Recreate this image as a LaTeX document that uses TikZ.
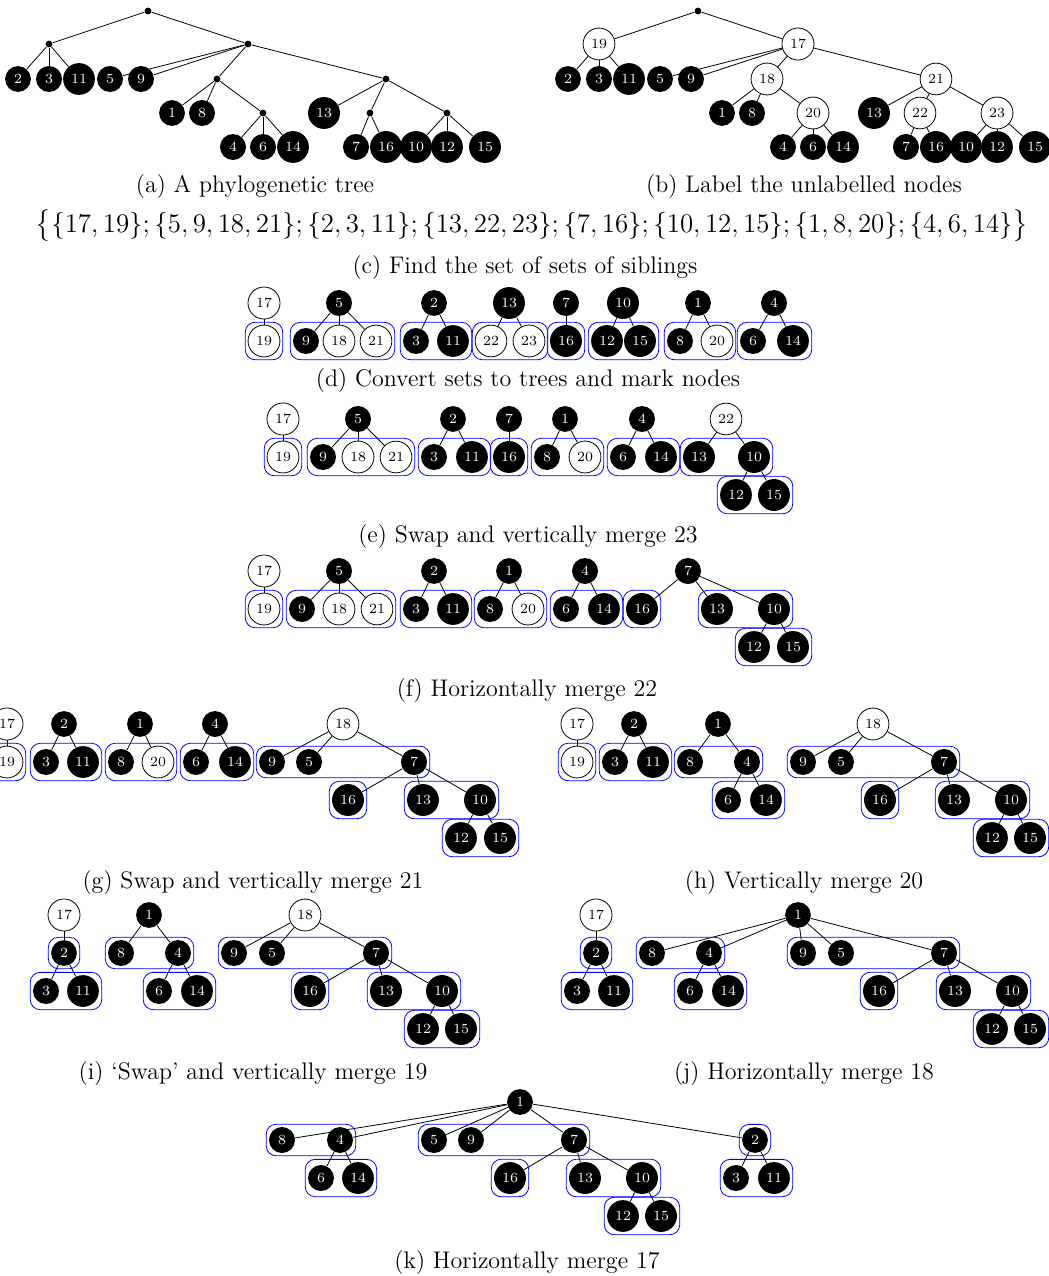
\documentclass[tikz,border=0pt]{standalone}
\usepackage{amsmath}
\usepackage{amssymb}
\usepackage{tikz}
\usetikzlibrary{shapes,fit}

\begin{document}
\begin{tikzpicture}[x=0.5pt,y=-0.5pt,
	leaf/.style={circle,fill=black,text=white,inner sep=2.4pt,font=\fontsize{7}{8}\selectfont},
	lab/.style={circle,draw,fill=white,inner sep=2.4pt,font=\fontsize{7}{8}\selectfont},
	dot/.style={circle,fill=black,inner sep=0pt,minimum size=3.4pt},
	grp/.style={draw=blue,rounded corners=5pt,inner sep=1.2pt},
	subcap/.style={font=\fontsize{12}{14}\selectfont}]
			\useasboundingbox (0,0) rectangle (1049,1276);

			% (a) and (b): the tree, unlabelled and labelled
			\foreach \t/\dx in {a/0,b/550}
				\foreach \n/\x/\y in {2/18/79,3/49/79,11/79/79,5/110/79,9/141/79,1/172/113,8/202/113,13/324/113,
					4/233/147,6/263/147,14/293/147,7/356/147,16/386/147,10/416/147,12/447/147,15/485/147}
					\node[leaf] (\t\n) at (\x+\dx,\y) {\n};
			\foreach \n/\x/\y in {19/49/44,17/248/44,18/217/79,21/386/79,20/263/113,22/370/113,23/447/113} {
				\node[dot] (a\n) at (\x,\y) {};
				\node[lab] (b\n) at (\x+550,\y) {\n};
			}
			\node[dot] (ar) at (148,11) {};
			\node[dot] (br) at (698,11) {};
			\foreach \t in {a,b}
				\foreach \p/\c in {r/19,r/17,19/2,19/3,19/11,17/5,17/9,17/18,17/21,18/1,18/8,18/20,20/4,20/6,20/14,
					21/13,21/22,21/23,22/7,22/16,23/10,23/12,23/15}
					\path[draw] (\t\p) -- (\t\c);
			\node[subcap] (capa) at (255,187) {(a) A phylogenetic tree};
			\node[subcap] (capb) at (804,187) {(b) Label the unlabelled nodes};

			% (c) sets of siblings
			\node[subcap] (sets) at (532,226) {\scalebox{1.12}{$\bigl\{\{17,19\};\{5,9,18,21\};\{2,3,11\};\{13,22,23\};\{7,16\};\{10,12,15\};\{1,8,20\};\{4,6,14\}\bigr\}$}};
			\node[subcap] (capc) at (525,268) {(c) Find the set of sets of siblings};

			% (d)
			\foreach \n/\x/\y in {5/339/303,9/306/341,2/434/303,3/416/341,11/453/341,13/509/303,7/566/303,16/566/341,
				10/623/303,12/607/341,15/640/341,1/698/303,8/680/341,4/774/303,6/753/341,14/793/341}
				\node[leaf] (d\n) at (\x,\y) {\n};
			\foreach \n/\x/\y in {17/264/303,19/264/341,18/339/341,21/376/341,22/491/341,23/529/341,20/717/341}
				\node[lab] (d\n) at (\x,\y) {\n};
			\foreach \p/\c in {17/19,5/9,5/18,5/21,2/3,2/11,13/22,13/23,7/16,10/12,10/15,1/8,1/20,4/6,4/14}
				\path[draw] (d\p) -- (d\c);
			\foreach \u/\v in {19/19,9/21,3/11,22/23,16/16,12/15,8/20,6/14}
				\node[grp,fit=(d\u)(d\v)] {};
			\node[subcap] (capd) at (528,381) {(d) Convert sets to trees and mark nodes};

			% (e)
			\foreach \n/\x/\y in {5/358/419,9/323/457,2/453/419,3/434/457,11/472/457,7/509/419,16/509/457,1/565/419,
				8/547/457,4/642/419,6/623/457,14/661/457,13/699/457,10/754/457,12/736/495,15/774/495}
				\node[leaf] (e\n) at (\x,\y) {\n};
			\foreach \n/\x/\y in {17/283/419,19/283/457,18/358/457,21/396/457,20/585/457,22/726/419}
				\node[lab] (e\n) at (\x,\y) {\n};
			\foreach \p/\c in {17/19,5/9,5/18,5/21,2/3,2/11,7/16,1/8,1/20,4/6,4/14,22/13,22/10,10/12,10/15}
				\path[draw] (e\p) -- (e\c);
			\foreach \u/\v in {19/19,9/21,3/11,16/16,8/20,6/14,13/10,12/15}
				\node[grp,fit=(e\u)(e\v)] {};
			\node[subcap] (cape) at (528,537) {(e) Swap and vertically merge 23};

			% (f)
			\foreach \n/\x/\y in {5/339/571,9/302/609,2/434/571,3/416/609,11/453/609,1/509/571,8/490/609,4/585/571,
				6/566/609,14/604/609,7/688/571,16/642/609,13/717/609,10/774/609,12/754/647,15/793/647}
				\node[leaf] (f\n) at (\x,\y) {\n};
			\foreach \n/\x/\y in {17/264/571,19/264/609,18/339/609,21/377/609,20/528/609}
				\node[lab] (f\n) at (\x,\y) {\n};
			\foreach \p/\c in {17/19,5/9,5/18,5/21,2/3,2/11,1/8,1/20,4/6,4/14,7/16,7/13,7/10,10/12,10/15}
				\path[draw] (f\p) -- (f\c);
			\foreach \u/\v in {19/19,9/21,3/11,8/20,6/14,16/16,13/10,12/15}
				\node[grp,fit=(f\u)(f\v)] {};
			\node[subcap] (capf) at (527,690) {(f) Horizontally merge 22};

			% (g)
			\foreach \n/\x/\y in {2/64/724,3/46/762,11/83/762,1/140/724,8/121/762,4/215/724,6/196/762,14/235/762,
				9/272/762,5/309/762,7/414/762,16/348/800,13/423/800,10/480/800,12/461/838,15/500/838}
				\node[leaf] (g\n) at (\x,\y) {\n};
			\foreach \n/\x/\y in {17/7/724,19/7/762,20/158/762,18/343/724}
				\node[lab] (g\n) at (\x,\y) {\n};
			\foreach \p/\c in {17/19,2/3,2/11,1/8,1/20,4/6,4/14,18/9,18/5,18/7,7/16,7/13,7/10,10/12,10/15}
				\path[draw] (g\p) -- (g\c);
			\foreach \u/\v in {19/19,3/11,8/20,6/14,9/7,16/16,13/10,12/15}
				\node[grp,fit=(g\u)(g\v)] {};
			\node[subcap] (capg) at (253,882) {(g) Swap and vertically merge 21};

			% (h)
			\foreach \n/\x/\y in {2/634/724,3/615/762,11/653/762,1/718/724,8/690/762,4/747/762,6/728/800,14/766/800,
				9/803/762,5/841/762,7/944/762,16/880/800,13/954/800,10/1011/800,12/992/838,15/1030/838}
				\node[leaf] (h\n) at (\x,\y) {\n};
			\foreach \n/\x/\y in {17/577/724,19/577/762,18/873/724}
				\node[lab] (h\n) at (\x,\y) {\n};
			\foreach \p/\c in {17/19,2/3,2/11,1/8,1/4,4/6,4/14,18/9,18/5,18/7,7/16,7/13,7/10,10/12,10/15}
				\path[draw] (h\p) -- (h\c);
			\foreach \u/\v in {19/19,3/11,8/4,6/14,9/7,16/16,13/10,12/15}
				\node[grp,fit=(h\u)(h\v)] {};
			\node[subcap] (caph) at (804,882) {(h) Vertically merge 20};

			% (i)
			\foreach \n/\x/\y in {2/64/953,3/46/991,11/83/991,1/149/915,8/121/953,4/178/953,6/159/991,14/197/991,
				9/234/953,5/272/953,7/376/953,16/310/991,13/386/991,10/442/991,12/423/1029,15/461/1029}
				\node[leaf] (i\n) at (\x,\y) {\n};
			\foreach \n/\x/\y in {17/64/915,18/305/915}
				\node[lab] (i\n) at (\x,\y) {\n};
			\foreach \p/\c in {17/2,2/3,2/11,1/8,1/4,4/6,4/14,18/9,18/5,18/7,7/16,7/13,7/10,10/12,10/15}
				\path[draw] (i\p) -- (i\c);
			\foreach \u/\v in {2/2,3/11,8/4,6/14,9/7,16/16,13/10,12/15}
				\node[grp,fit=(i\u)(i\v)] {};
			\node[subcap] (capi) at (253,1073) {(i) `Swap' and vertically merge 19};

			% (j)
			\foreach \n/\x/\y in {2/596/953,3/577/991,11/614/991,1/798/915,8/652/953,4/709/953,6/690/991,14/728/991,
				9/803/953,5/841/953,7/944/953,16/879/991,13/955/991,10/1012/991,12/992/1029,15/1030/1029}
				\node[leaf] (j\n) at (\x,\y) {\n};
			\node[lab] (j17) at (596,915) {17};
			\foreach \p/\c in {17/2,2/3,2/11,1/8,1/4,1/9,1/5,1/7,4/6,4/14,7/16,7/13,7/10,10/12,10/15}
				\path[draw] (j\p) -- (j\c);
			\foreach \u/\v in {2/2,3/11,8/4,6/14,9/7,16/16,13/10,12/15}
				\node[grp,fit=(j\u)(j\v)] {};
			\node[subcap] (capj) at (804,1073) {(j) Horizontally merge 18};

			% (k)
			\foreach \n/\x/\y in {1/520/1102,8/282/1140,4/340/1140,6/321/1178,14/358/1178,5/434/1140,9/471/1140,
				7/574/1140,16/510/1178,13/585/1178,10/642/1178,12/623/1216,15/661/1216,2/755/1140,3/736/1178,11/774/1178}
				\node[leaf] (k\n) at (\x,\y) {\n};
			\foreach \p/\c in {1/8,1/4,1/5,1/9,1/7,1/2,2/3,2/11,4/6,4/14,7/16,7/13,7/10,10/12,10/15}
				\path[draw] (k\p) -- (k\c);
			\foreach \u/\v in {8/4,6/14,5/7,16/16,13/10,12/15,2/2,3/11}
				\node[grp,fit=(k\u)(k\v)] {};
			\node[subcap] (capk) at (527,1262) {(k) Horizontally merge 17};
		\end{tikzpicture}
\end{document}
